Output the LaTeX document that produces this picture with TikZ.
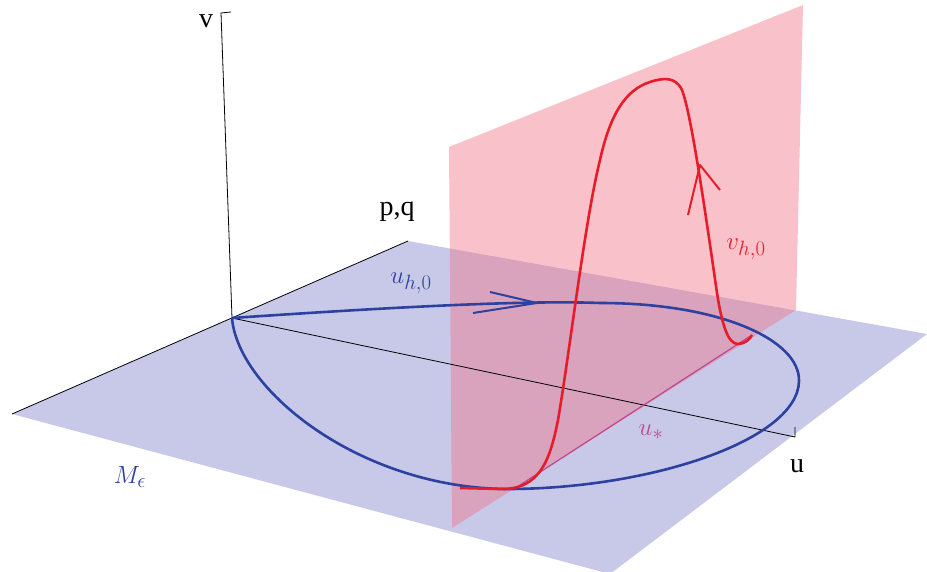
\documentclass[tikz,border=0pt]{standalone}
\usepackage{fontspec}
\setmainfont{Liberation Serif}
\definecolor{planeblue}{RGB}{118,120,200}
\definecolor{planered}{RGB}{240,110,130}
\definecolor{loopblue}{RGB}{45,65,160}
\definecolor{loopred}{RGB}{232,28,40}
\definecolor{ustar}{RGB}{190,70,140}

\begin{document}
\begin{tikzpicture}[x=1pt,y=-1pt,
  axis/.style={black, line width=0.8pt},
  homblue/.style={loopblue, line width=2.6pt, line join=round},
  homred/.style={loopred, line width=2.6pt, line join=round},
  axlabel/.style={font=\fontsize{28}{30}\selectfont, inner sep=0pt},
  mathlabel/.style={font=\fontsize{29}{31}\selectfont, inner sep=0pt}]
\useasboundingbox (0,0) rectangle (927,572);

% corners of the two planes
\coordinate (O) at (232,318);
\coordinate (mL) at (12,414);
\coordinate (mT) at (408,241);
\coordinate (mR) at (927,334);
\coordinate (mB) at (610,574);
\coordinate (rBL) at (452,528);
\coordinate (rBR) at (796,310);
\coordinate (rTR) at (803,5);
\coordinate (rTL) at (449,147);

% planes
\fill[planeblue, opacity=0.40] (mL) -- (mT) -- (mR) -- (mB) -- cycle;
\fill[planered, opacity=0.42] (rBL) -- (rBR) -- (rTR) -- (rTL) -- cycle;

% axes
\coordinate (vtop) at (221,13);
\coordinate (uend) at (795,437);
\draw[axis] (mL) -- (mT);
\draw[axis] (O) -- (vtop) -- ++(10,-1);
\draw[axis] (O) -- (uend) -- ++(0,-10);
\node[axlabel] (vlab) at (206,21) {v};
\node[axlabel] (pqlab) at (397,212) {p,q};
\node[axlabel] (ulab) at (797,466) {u};

% u_* line
\coordinate (us1) at (517,487);
\coordinate (us2) at (752,335);
\draw[ustar, line width=1.2pt] (us1) -- (us2);

% homoclinic loop in M_eps
\coordinate (lt) at (600,303);
\coordinate (lr) at (799,381);
\coordinate (lb) at (507,489);
\draw[homblue] (O) .. controls (380,308) and (520,300) .. (lt)
  .. controls (720,303) and (800,340) .. (lr)
  .. controls (798,440) and (650,489) .. (lb)
  .. controls (360,488) and (238,390) .. (O);
\coordinate (btip) at (537,303);
\draw[homblue, line width=2pt] (490,292) -- (btip) -- (473,313);

% fast fibre
\coordinate (fs) at (460,488);
\coordinate (fe) at (752,335);
\draw[homred] (fs) -- (500,489) .. controls (540,490) and (550,460) .. (558,420)
  .. controls (570,350) and (585,220) .. (600,160)
  .. controls (610,115) and (625,90) .. (650,82)
  .. controls (665,77) and (675,78) .. (681,88)
  .. controls (690,105) and (705,210) .. (717,293)
  .. controls (722,325) and (728,344) .. (738,344)
  .. controls (745,344) and (750,339) .. (fe);
\coordinate (rtip) at (700,165);
\draw[homred, line width=2pt] (688,215) -- (rtip) -- (720,190);

% labels
\node[mathlabel, text=loopblue] (uh) at (411,283) {$u_{h,0}$};
\node[mathlabel, text=loopred] (vh) at (746,249) {$v_{h,0}$};
\node[mathlabel, text=ustar] (us) at (651,432) {$u_*$};
\node[mathlabel, text=loopblue] (Me) at (130,477) {$M_\epsilon$};
\end{tikzpicture}
\end{document}
